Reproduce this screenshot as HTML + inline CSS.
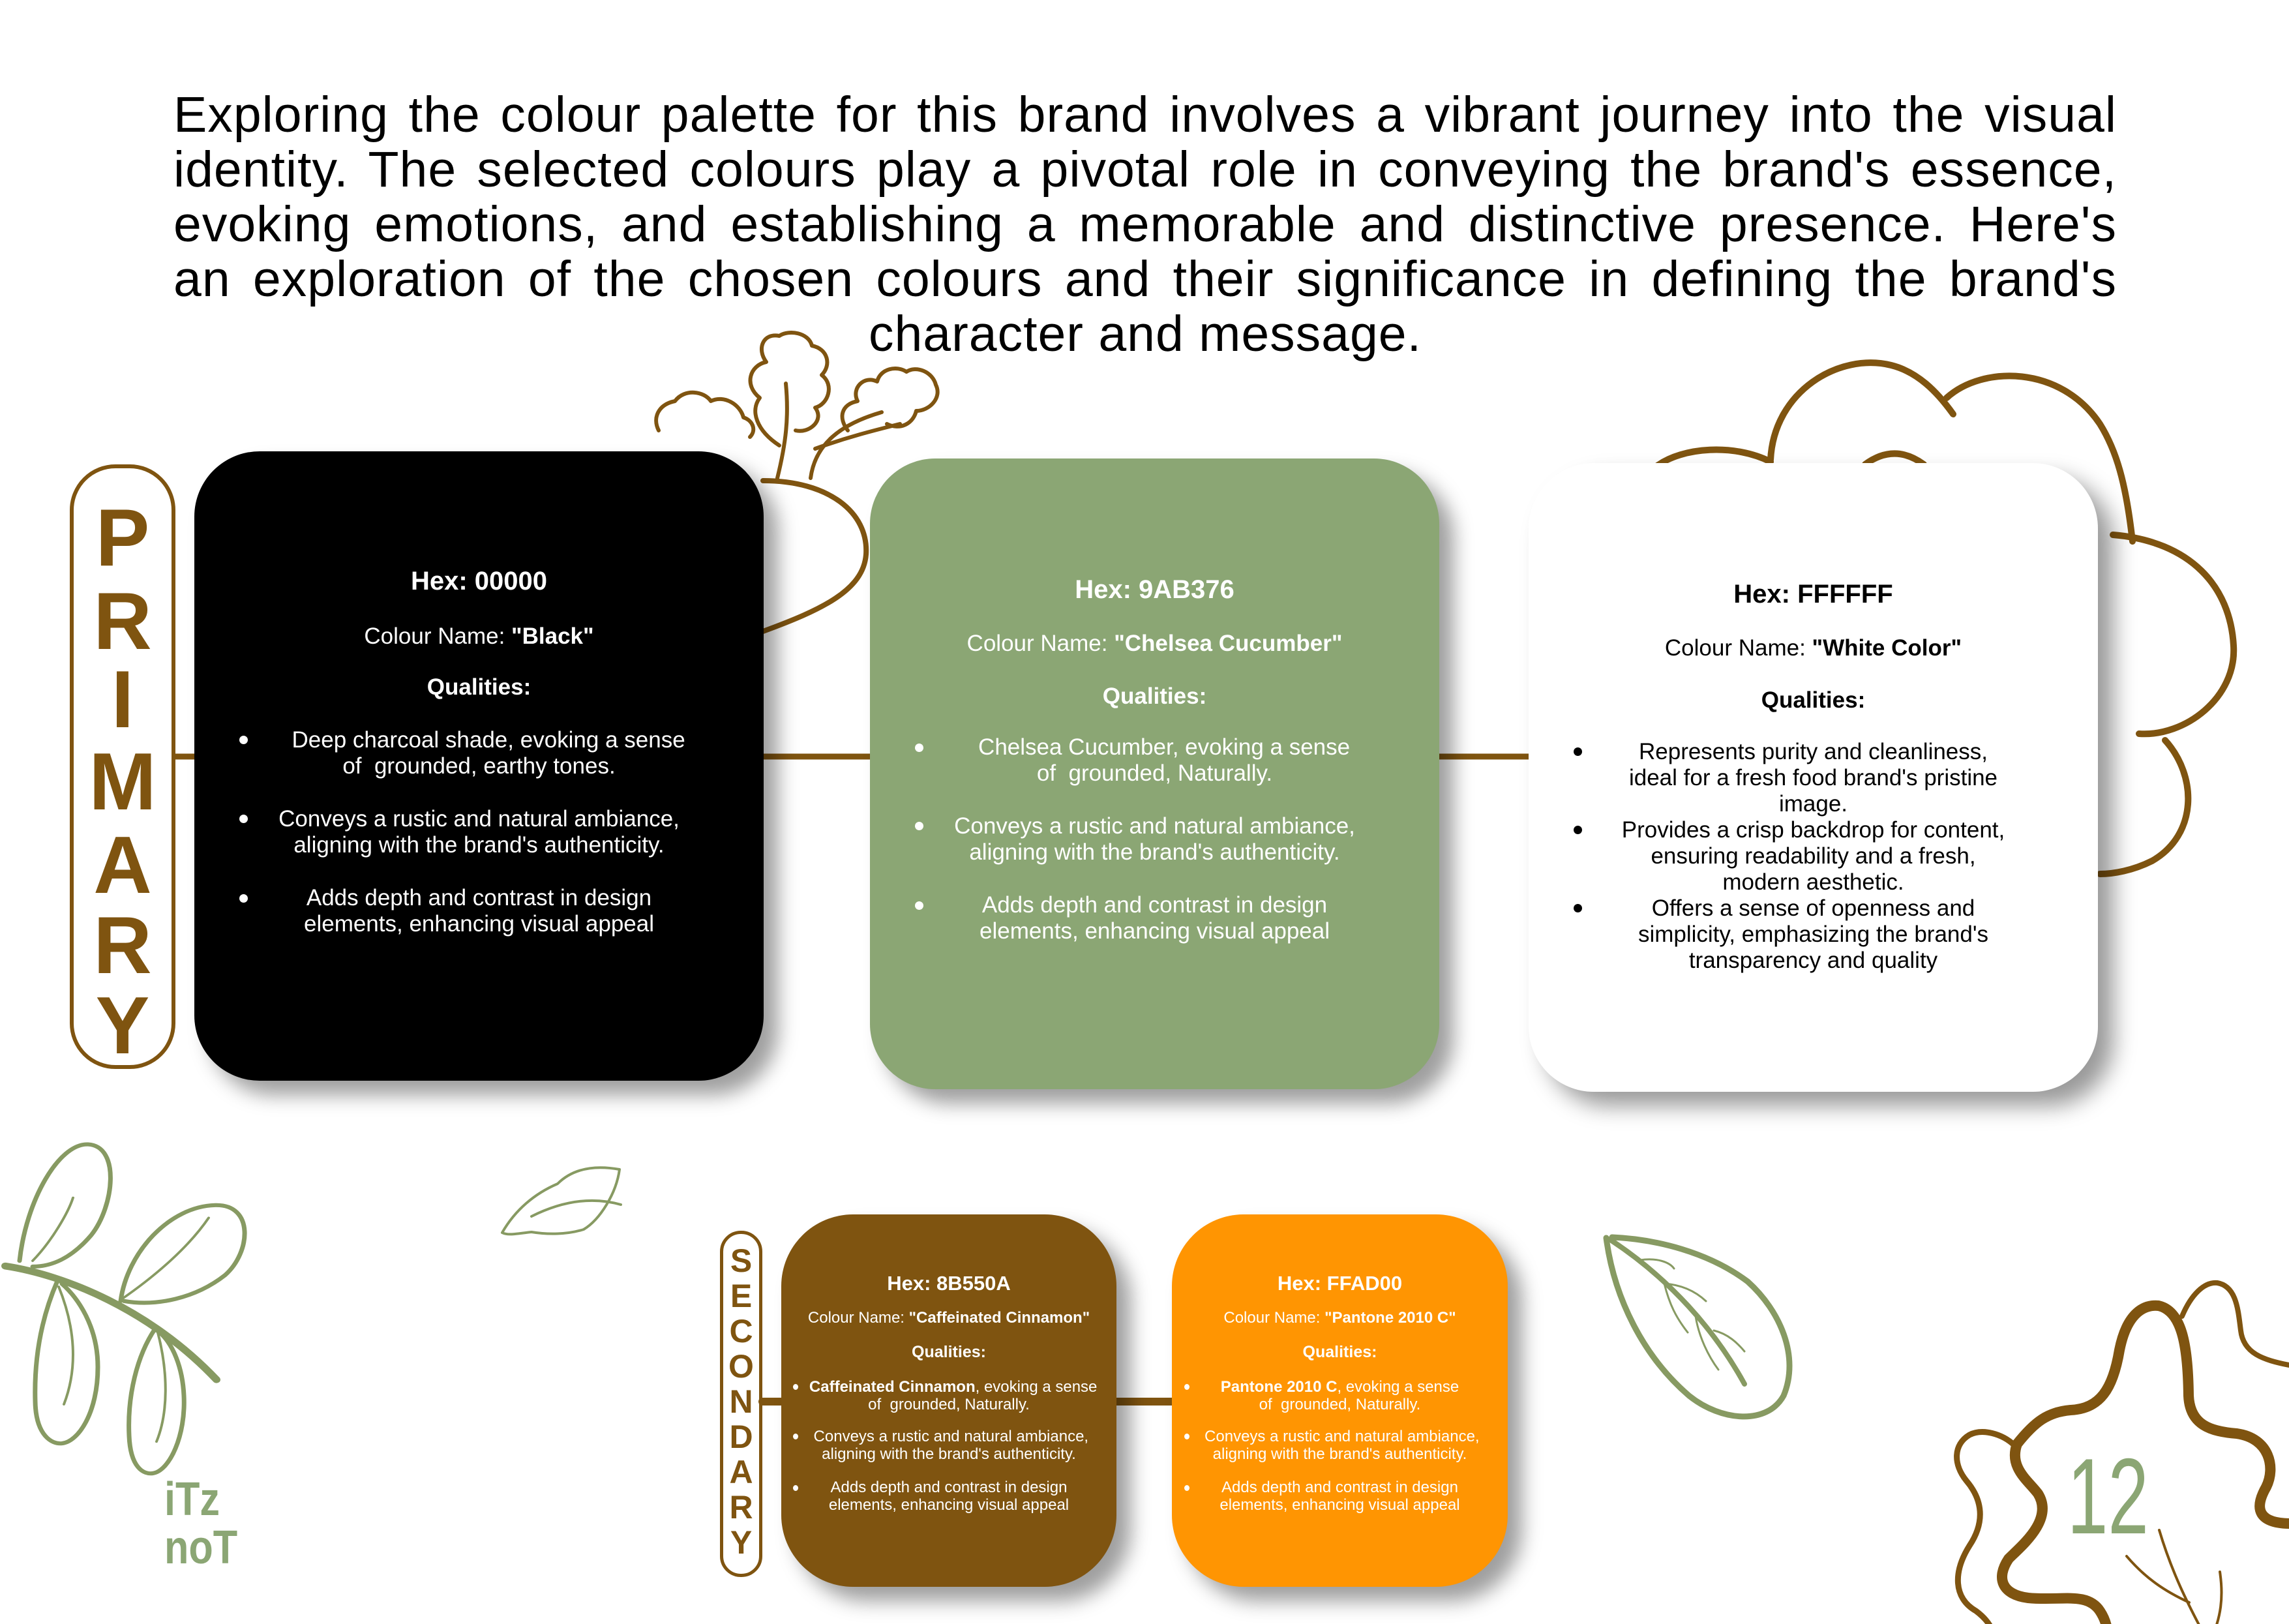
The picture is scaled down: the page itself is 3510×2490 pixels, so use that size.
<!DOCTYPE html>
<html><head><meta charset="utf-8">
<style>
*{margin:0;padding:0;box-sizing:border-box}
body{width:3510px;height:2490px;background:#fff;position:relative;overflow:hidden;font-family:"Liberation Sans",sans-serif}
.abs{position:absolute}
.hd{position:absolute;left:266px;width:2980px;font-size:77px;line-height:84px;height:84px;text-align:justify;text-align-last:justify;color:#000;white-space:nowrap;letter-spacing:1px}
.card{position:absolute;border-radius:100px;box-shadow:22px 22px 30px rgba(0,0,0,0.38)}
.t{position:absolute;text-align:center;white-space:nowrap}
.dot{position:absolute;border-radius:50%}
.nar{font-family:"Liberation Sans",sans-serif}
</style></head><body>

<div class="hd" style="top:134px">Exploring the colour palette for this brand involves a vibrant journey into the visual</div>
<div class="hd" style="top:218px">identity. The selected colours play a pivotal role in conveying the brand's essence,</div>
<div class="hd" style="top:302px">evoking emotions, and establishing a memorable and distinctive presence. Here's</div>
<div class="hd" style="top:386px">an exploration of the chosen colours and their significance in defining the brand's</div>
<div class="hd" style="top:470px;text-align:center;text-align-last:center">character and message.</div>

<svg class="abs" style="left:0;top:0" width="3510" height="2490" viewBox="0 0 3510 2490" fill="none" stroke-linecap="round" stroke-linejoin="round">
 <line x1="269" y1="1160" x2="2344" y2="1160" stroke="#7f5410" stroke-width="9"/>
 <line x1="1169" y1="2149" x2="1797" y2="2149" stroke="#7f5410" stroke-width="12"/>
 <g stroke="#7f5410" stroke-width="6">
  <path d="M1170,737 C1270,737 1332,785 1328,850 C1324,905 1260,935 1170,968" stroke-width="8"/>
  <path d="M1192,733 C1205,680 1210,640 1205,588"/>
  <path d="M1243,733 C1250,680 1290,650 1352,632"/>
  <path d="M1250,688 C1300,670 1340,660 1380,650"/>
  <path d="M1195,683 C1160,660 1150,630 1165,610 C1140,590 1150,560 1175,555 C1160,535 1170,510 1195,515 C1210,505 1240,510 1245,530 C1270,535 1275,560 1260,575 C1280,590 1270,620 1250,625 C1265,645 1240,665 1220,660"/>
  <path d="M1010,660 C1000,640 1010,620 1035,615 C1050,595 1080,600 1090,615 C1110,605 1135,620 1140,640 C1155,645 1160,660 1150,670"/>
  <path d="M1300,660 C1285,640 1290,620 1315,615 C1305,595 1325,575 1345,585 C1350,565 1375,560 1390,570 C1405,560 1430,570 1435,590 C1445,610 1425,630 1405,630 C1400,650 1380,660 1360,650"/>
 </g>
 <g stroke="#7f5410" stroke-width="10">
  <path d="M2540,715 C2580,685 2660,680 2715,708"/>
  <path d="M2715,705 C2720,600 2820,540 2900,560 C2940,570 2970,600 2995,635"/>
  <path d="M2985,610 C3040,560 3160,560 3220,650 C3245,690 3260,740 3270,830"/>
  <path d="M3240,820 C3360,830 3420,900 3425,990 C3430,1070 3350,1130 3280,1125"/>
  <path d="M3320,1135 C3370,1190 3370,1280 3300,1320 C3270,1335 3240,1340 3220,1340"/>
  <path d="M2860,712 C2890,690 2920,690 2950,712"/>
 </g>
 <g stroke="#879a62" stroke-width="7" transform="translate(0,1700) scale(1,0.88) translate(0,-1700)">
  <path d="M8,1974 C100,1990 230,2050 332,2172" stroke-width="12"/>
  <path d="M30,1965 C40,1860 90,1760 135,1762 C185,1765 175,1870 140,1920 C110,1960 80,1975 50,1975"/>
  <path d="M50,1965 C80,1930 105,1880 112,1855" stroke-width="4"/>
  <path d="M185,2035 C195,1950 260,1870 330,1868 C390,1866 385,1950 345,1990 C300,2030 240,2045 190,2035"/>
  <path d="M185,2033 C240,1990 290,1940 320,1890" stroke-width="4"/>
  <path d="M88,2000 C65,2060 52,2130 54,2210 C55,2270 80,2285 95,2283 C120,2280 150,2230 150,2150 C150,2080 120,2030 95,2005"/>
  <path d="M90,2010 C115,2080 120,2150 98,2215" stroke-width="4"/>
  <path d="M238,2083 C210,2130 195,2200 198,2270 C200,2325 220,2338 235,2335 C260,2330 285,2270 282,2200 C280,2150 265,2110 245,2090"/>
  <path d="M242,2090 C258,2160 258,2230 240,2280" stroke-width="4"/>
 </g>
 <g stroke="#879a62" stroke-width="4">
  <path d="M770,1890 C790,1855 820,1830 855,1815 C875,1795 905,1785 950,1793 C945,1830 920,1870 895,1885 C870,1893 840,1893 815,1889 C795,1891 780,1895 770,1890"/>
  <path d="M815,1865 C865,1840 910,1835 952,1847"/>
 </g>
 <g stroke="#879a62" stroke-width="7">
  <path d="M2463,1898 C2475,1990 2520,2080 2590,2140 C2640,2180 2710,2185 2735,2140 C2760,2080 2730,2010 2680,1965 C2620,1920 2540,1900 2472,1897" stroke-width="9"/>
  <path d="M2468,1900 C2560,1960 2630,2040 2675,2122" stroke-width="8"/>
  <path d="M2515,1932 C2540,1928 2560,1935 2567,1945" stroke-width="3"/>
  <path d="M2552,1968 C2580,1970 2600,1980 2616,1995" stroke-width="3"/>
  <path d="M2552,1968 C2560,2000 2570,2020 2588,2043" stroke-width="3"/>
  <path d="M2600,2018 C2605,2050 2620,2080 2635,2100" stroke-width="3"/>
  <path d="M2628,2040 C2650,2045 2665,2060 2675,2072" stroke-width="3"/>
 </g>
 <g stroke="#7f5410">
  <path d="M3093,2214 C3120,2180 3140,2165 3175,2162 C3220,2160 3240,2130 3250,2070 C3262,2010 3290,2000 3310,2002 C3345,2010 3355,2060 3356,2140 C3358,2185 3390,2195 3430,2198 C3480,2205 3490,2250 3475,2280 C3455,2315 3465,2335 3510,2336 M3093,2214 C3080,2250 3110,2270 3125,2290 C3150,2330 3100,2370 3080,2390 C3060,2420 3070,2445 3110,2450 C3160,2455 3200,2440 3220,2470 C3230,2485 3232,2500 3232,2510" stroke-width="16"/>
  <path d="M3346,2018 C3360,1985 3380,1965 3400,1967 C3430,1972 3432,2010 3436,2040 C3440,2075 3470,2085 3510,2093" stroke-width="8"/>
  <path d="M3089,2216 C3070,2198 3040,2190 3020,2200 C2995,2215 2995,2245 3015,2270 C3045,2305 3040,2340 3020,2370 C2995,2410 2995,2450 3030,2470 C3050,2485 3057,2500 3057,2510" stroke-width="9"/>
  <path d="M3311,2346 C3330,2410 3355,2460 3382,2510 M3261,2386 C3290,2420 3320,2440 3357,2457 M3404,2410 C3410,2450 3405,2480 3392,2510" stroke-width="4"/>
 </g>
</svg>
<div class="abs" style="left:3170px;top:2212px;font-size:165px;line-height:165px;color:#8ba674;transform:scaleX(0.68);transform-origin:left top">12</div>

<div class="abs" style="left:252px;top:2262px;width:140px;color:#8ba674;font-weight:bold;font-size:72px;line-height:74px;transform:scaleX(0.85);transform-origin:left top">
 <div>iTz</div><div>noT</div>
</div>

<div class="abs" style="left:107px;top:712px;width:162px;height:927px;border:6px solid #7f5410;border-radius:70px"></div>
<div class="abs" style="left:107px;top:712px;width:162px;color:#7f5410;font-weight:bold;font-size:124px;text-align:center">
 <div class="t" style="width:162px;top:42px">P</div>
 <div class="t" style="width:162px;top:170px">R</div>
 <div class="t" style="width:162px;top:290px">I</div>
 <div class="t" style="width:162px;top:416px">M</div>
 <div class="t" style="width:162px;top:544px">A</div>
 <div class="t" style="width:162px;top:667px">R</div>
 <div class="t" style="width:162px;top:790px">Y</div>
</div>

<div class="card" style="left:298px;top:692px;width:873px;height:965px;background:#000"></div>
<div class="abs" style="left:298px;top:0;width:873px;color:#fff">
 <div class="t" style="width:873px;top:865px;font-size:40px;font-weight:bold;line-height:52px">Hex: 00000</div>
 <div class="t" style="width:873px;top:956px;font-size:35px;line-height:40px">Colour Name: <b>"Black"</b></div>
 <div class="t" style="width:873px;top:1034px;font-size:35px;line-height:40px;font-weight:bold">Qualities:</div>
 <div class="t" style="width:873px;top:1115px;font-size:35px;line-height:40px">&nbsp;&nbsp;&nbsp;Deep charcoal shade, evoking a sense<br>of &nbsp;grounded, earthy tones.</div>
 <div class="t" style="width:873px;top:1236px;font-size:35px;line-height:40px">Conveys a rustic and natural ambiance,<br>aligning with the brand's authenticity.</div>
 <div class="t" style="width:873px;top:1357px;font-size:35px;line-height:40px">Adds depth and contrast in design<br>elements, enhancing visual appeal</div>
</div>
<div class="dot" style="left:367px;top:1128px;width:13px;height:13px;background:#fff"></div>
<div class="dot" style="left:367px;top:1249px;width:13px;height:13px;background:#fff"></div>
<div class="dot" style="left:367px;top:1371px;width:13px;height:13px;background:#fff"></div>

<div class="card" style="left:1334px;top:703px;width:873px;height:967px;background:#8ba674"></div>
<div class="abs" style="left:1334px;top:0;width:873px;color:#fff">
 <div class="t" style="width:873px;top:878px;font-size:40px;font-weight:bold;line-height:52px">Hex: 9AB376</div>
 <div class="t" style="width:873px;top:967px;font-size:35px;line-height:40px">Colour Name: <b>"Chelsea Cucumber"</b></div>
 <div class="t" style="width:873px;top:1048px;font-size:35px;line-height:40px;font-weight:bold">Qualities:</div>
 <div class="t" style="width:873px;top:1126px;font-size:35px;line-height:40px">&nbsp;&nbsp;&nbsp;Chelsea Cucumber, evoking a sense<br>of &nbsp;grounded, Naturally.</div>
 <div class="t" style="width:873px;top:1247px;font-size:35px;line-height:40px">Conveys a rustic and natural ambiance,<br>aligning with the brand's authenticity.</div>
 <div class="t" style="width:873px;top:1368px;font-size:35px;line-height:40px">Adds depth and contrast in design<br>elements, enhancing visual appeal</div>
</div>
<div class="dot" style="left:1403px;top:1140px;width:13px;height:13px;background:#fff"></div>
<div class="dot" style="left:1403px;top:1260px;width:13px;height:13px;background:#fff"></div>
<div class="dot" style="left:1403px;top:1382px;width:13px;height:13px;background:#fff"></div>

<div class="card" style="left:2344px;top:710px;width:873px;height:964px;background:#fff;box-shadow:24px 22px 34px rgba(0,0,0,0.4)"></div>
<div class="abs" style="left:2344px;top:0;width:873px;color:#000">
 <div class="t" style="width:873px;top:885px;font-size:40px;font-weight:bold;line-height:52px">Hex: FFFFFF</div>
 <div class="t" style="width:873px;top:974px;font-size:35px;line-height:40px">Colour Name: <b>"White Color"</b></div>
 <div class="t" style="width:873px;top:1054px;font-size:35px;line-height:40px;font-weight:bold">Qualities:</div>
 <div class="t" style="width:873px;top:1133px;font-size:35px;line-height:40px">Represents purity and cleanliness,<br>ideal for a fresh food brand's pristine<br>image.<br>Provides a crisp backdrop for content,<br>ensuring readability and a fresh,<br>modern aesthetic.<br>Offers a sense of openness and<br>simplicity, emphasizing the brand's<br>transparency and quality</div>
</div>
<div class="dot" style="left:2413px;top:1146px;width:13px;height:13px;background:#000"></div>
<div class="dot" style="left:2413px;top:1266px;width:13px;height:13px;background:#000"></div>
<div class="dot" style="left:2413px;top:1386px;width:13px;height:13px;background:#000"></div>

<div class="abs" style="left:1104px;top:1887px;width:65px;height:531px;border:5px solid #7f5410;border-radius:32px"></div>
<div class="abs" style="left:1104px;top:1887px;width:65px;color:#7f5410;font-weight:bold;font-size:50px">
 <div class="t" style="width:65px;top:17px">S</div>
 <div class="t" style="width:65px;top:71px">E</div>
 <div class="t" style="width:65px;top:125px">C</div>
 <div class="t" style="width:65px;top:179px">O</div>
 <div class="t" style="width:65px;top:233px">N</div>
 <div class="t" style="width:65px;top:287px">D</div>
 <div class="t" style="width:65px;top:341px">A</div>
 <div class="t" style="width:65px;top:395px">R</div>
 <div class="t" style="width:65px;top:449px">Y</div>
</div>

<div class="card" style="left:1198px;top:1862px;width:514px;height:571px;background:#7f5410;border-radius:110px"></div>
<div class="abs nar" style="left:1198px;top:0;width:514px;color:#fff">
 <div class="t" style="width:514px;top:1950px;font-size:31px;font-weight:bold;line-height:36px">Hex: 8B550A</div>
 <div class="t" style="width:514px;top:2005px;font-size:24px;line-height:32px">Colour Name: <b>"Caffeinated Cinnamon"</b></div>
 <div class="t" style="width:514px;top:2057px;font-size:25px;line-height:32px;font-weight:bold">Qualities:</div>
 <div class="t" style="width:514px;top:2113px;font-size:24px;line-height:27px">&nbsp;&nbsp;<b>Caffeinated Cinnamon</b>, evoking a sense<br>of &nbsp;grounded, Naturally.</div>
 <div class="t" style="width:514px;top:2189px;font-size:24px;line-height:27px">&nbsp;Conveys a rustic and natural ambiance,<br>aligning with the brand's authenticity.</div>
 <div class="t" style="width:514px;top:2267px;font-size:24px;line-height:27px">Adds depth and contrast in design<br>elements, enhancing visual appeal</div>
</div>
<div class="dot" style="left:1216px;top:2122px;width:8px;height:9px;background:#fff"></div>
<div class="dot" style="left:1216px;top:2198px;width:8px;height:9px;background:#fff"></div>
<div class="dot" style="left:1216px;top:2277px;width:8px;height:9px;background:#fff"></div>

<div class="card" style="left:1797px;top:1862px;width:515px;height:571px;background:#ff9502;border-radius:110px"></div>
<div class="abs nar" style="left:1797px;top:0;width:515px;color:#fff">
 <div class="t" style="width:515px;top:1950px;font-size:31px;font-weight:bold;line-height:36px">Hex: FFAD00</div>
 <div class="t" style="width:515px;top:2005px;font-size:24px;line-height:32px">Colour Name: <b>"Pantone 2010 C"</b></div>
 <div class="t" style="width:515px;top:2057px;font-size:25px;line-height:32px;font-weight:bold">Qualities:</div>
 <div class="t" style="width:515px;top:2113px;font-size:24px;line-height:27px"><b>Pantone 2010 C</b>, evoking a sense<br>of &nbsp;grounded, Naturally.</div>
 <div class="t" style="width:515px;top:2189px;font-size:24px;line-height:27px">&nbsp;Conveys a rustic and natural ambiance,<br>aligning with the brand's authenticity.</div>
 <div class="t" style="width:515px;top:2267px;font-size:24px;line-height:27px">Adds depth and contrast in design<br>elements, enhancing visual appeal</div>
</div>
<div class="dot" style="left:1816px;top:2122px;width:8px;height:9px;background:#fff"></div>
<div class="dot" style="left:1816px;top:2198px;width:8px;height:9px;background:#fff"></div>
<div class="dot" style="left:1816px;top:2277px;width:8px;height:9px;background:#fff"></div>

</body></html>
